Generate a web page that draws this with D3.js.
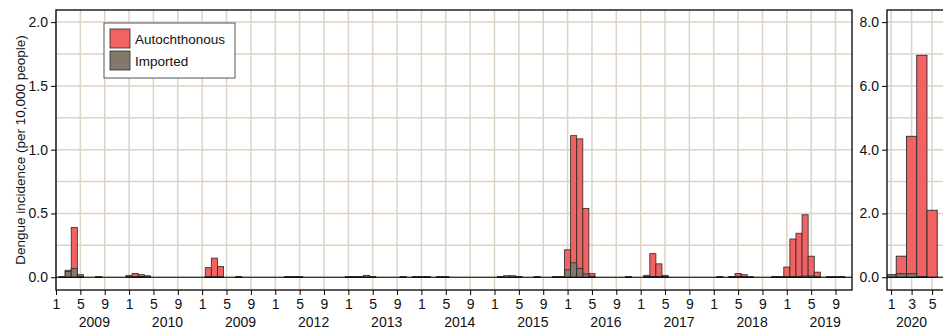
<!DOCTYPE html>
<html>
<head>
<meta charset="utf-8">
<script src="https://cdn.jsdelivr.net/npm/d3@7"></script>
<style>
  html, body { margin: 0; padding: 0; background: #fff; }
  svg { display: block; font-family: "Liberation Sans", Arial, sans-serif; }
</style>
</head>
<body>
<svg id="chart" width="943" height="329"></svg>
<script>
// Monthly dengue incidence per 10,000 people, Jan 2009 - Dec 2019 (12 values per year)
const autochthonous = [
  0, 0.004, 0.055, 0.39, 0.02, 0, 0, 0.004, 0, 0, 0, 0,          // 2009
  0.015, 0.03, 0.02, 0.01, 0, 0, 0, 0, 0, 0, 0, 0,               // 2010
  0, 0.075, 0.15, 0.085, 0, 0, 0.004, 0, 0, 0, 0, 0,              // 2011
  0, 0, 0.004, 0.004, 0.004, 0, 0, 0, 0, 0, 0, 0,                 // 2012
  0.004, 0.004, 0.004, 0.006, 0.004, 0, 0, 0, 0, 0.004, 0, 0.004, // 2013
  0.004, 0.004, 0, 0.004, 0.004, 0, 0, 0, 0, 0, 0, 0,             // 2014
  0, 0.005, 0.006, 0.006, 0.005, 0, 0, 0.004, 0, 0, 0.004, 0.004, // 2015
  0.215, 1.11, 1.085, 0.54, 0.03, 0, 0, 0, 0, 0, 0.004, 0,        // 2016
  0, 0.015, 0.185, 0.105, 0.015, 0, 0, 0, 0, 0, 0, 0,             // 2017
  0, 0.004, 0, 0.006, 0.03, 0.02, 0.004, 0, 0, 0, 0.004, 0.004,   // 2018
  0.08, 0.30, 0.345, 0.49, 0.165, 0.04, 0, 0.004, 0.004, 0.004, 0, 0 // 2019
];
const imported = [
  0, 0.003, 0.045, 0.07, 0.008, 0, 0, 0.003, 0, 0, 0, 0,          // 2009
  0.004, 0.004, 0.006, 0.01, 0, 0, 0, 0, 0, 0, 0, 0,              // 2010
  0, 0.004, 0.004, 0.003, 0, 0, 0.004, 0, 0, 0, 0, 0,             // 2011
  0, 0, 0.004, 0.004, 0.004, 0, 0, 0, 0, 0, 0, 0,                 // 2012
  0.004, 0.004, 0.004, 0.015, 0.004, 0, 0, 0, 0, 0.004, 0, 0.004, // 2013
  0.004, 0.004, 0, 0.004, 0.004, 0, 0, 0, 0, 0, 0, 0,             // 2014
  0, 0.005, 0.012, 0.012, 0.005, 0, 0, 0.004, 0, 0, 0.004, 0.004, // 2015
  0.058, 0.113, 0.07, 0.026, 0.008, 0, 0, 0, 0, 0, 0.004, 0,      // 2016
  0, 0.005, 0.006, 0.006, 0.005, 0, 0, 0, 0, 0, 0, 0,            // 2017
  0, 0.004, 0, 0.006, 0.008, 0.005, 0.004, 0, 0, 0, 0.004, 0.004, // 2018
  0.005, 0.005, 0.006, 0.01, 0.01, 0.004, 0, 0.004, 0.004, 0.004, 0, 0 // 2019
];
const yearLabels = ["2009", "2010", "2009", "2012", "2013", "2014", "2015", "2016", "2017", "2018", "2019"];
const monthTicks = [1, 5, 9];
const mainYTicks = [0, 0.5, 1.0, 1.5, 2.0];

// 2020, Jan - May
const months2020 = [1, 2, 3, 4, 5];
const autochthonous2020 = [0.04, 0.66, 4.42, 6.96, 2.1];
const imported2020 = [0.08, 0.11, 0.11, 0.02, 0];
const yearLabel2020 = "2020";
const monthTicks2020 = [1, 3, 5];
const rightYTicks = [0, 2, 4, 6, 8];

const seriesNames = ["Autochthonous", "Imported"];
const RED = "#f26262", GREY = "#83786c", GRID = "#ddd3c6", EDGE = "#2a2a2a";

const svg = d3.select("#chart");
const plotTop = 10, plotBottom = 290;

// ---------- main panel ----------
const mainL = 56, mainR = 852;
const x = d3.scaleLinear().domain([0, 130.7]).range([mainL, mainR]);
const y = d3.scaleLinear().domain([-0.1, 2.095]).range([plotBottom, plotTop]);
const bw = x(1) - x(0);

svg.append("clipPath").attr("id", "clipMain")
  .append("rect").attr("x", mainL).attr("y", plotTop).attr("width", mainR - mainL).attr("height", plotBottom - plotTop);

const gMain = svg.append("g");
// grid
const tickIdx = [];
yearLabels.forEach((_, yi) => monthTicks.forEach(m => tickIdx.push({i: yi * 12 + m - 1, label: String(m)})));
gMain.append("g").selectAll("line").data(d3.range(0, 2.01, 0.25)).join("line")
  .attr("x1", mainL).attr("x2", mainR).attr("y1", d => y(d)).attr("y2", d => y(d))
  .attr("stroke", GRID).attr("stroke-width", 1.5);
gMain.append("g").selectAll("line").data(tickIdx).join("line")
  .attr("x1", d => x(d.i)).attr("x2", d => x(d.i)).attr("y1", plotTop).attr("y2", plotBottom)
  .attr("stroke", GRID).attr("stroke-width", 1.5);

const barsMain = gMain.append("g").attr("clip-path", "url(#clipMain)");
barsMain.append("g").selectAll("rect").data(autochthonous.map((v, i) => ({v, i})).filter(d => d.v > 0)).join("rect")
  .attr("x", d => x(d.i - 0.5)).attr("width", bw)
  .attr("y", d => y(d.v)).attr("height", d => y(0) - y(d.v))
  .attr("fill", RED).attr("stroke", EDGE).attr("stroke-width", 0.8);
barsMain.append("g").selectAll("rect").data(imported.map((v, i) => ({v, i})).filter(d => d.v > 0)).join("rect")
  .attr("x", d => x(d.i - 0.5)).attr("width", bw)
  .attr("y", d => y(d.v)).attr("height", d => y(0) - y(d.v))
  .attr("fill", GREY).attr("stroke", EDGE).attr("stroke-width", 0.8);
gMain.append("line").attr("x1", mainL).attr("x2", mainR).attr("y1", y(0)).attr("y2", y(0))
  .attr("stroke", "#000").attr("stroke-width", 1.2);
gMain.append("rect").attr("x", mainL).attr("y", plotTop).attr("width", mainR - mainL).attr("height", plotBottom - plotTop)
  .attr("fill", "none").attr("stroke", "#000").attr("stroke-width", 1.3);

// axes
const yAxis = d3.axisLeft(y).tickValues(mainYTicks).tickFormat(d3.format(".1f")).tickSize(5).tickPadding(3);
const gy = svg.append("g").attr("transform", `translate(${mainL},0)`).call(yAxis);
const xAxis = d3.axisBottom(x).tickValues(tickIdx.map(d => d.i)).tickFormat((d, k) => tickIdx[k].label).tickSize(5).tickPadding(4);
const gx = svg.append("g").attr("transform", `translate(0,${plotBottom})`).call(xAxis);
[gy, gx].forEach(g => {
  g.select(".domain").remove();
  g.selectAll("text").attr("font-size", 14).attr("fill", "#111").attr("font-family", "Liberation Sans, Arial, sans-serif");
  g.selectAll("line").attr("stroke", "#000");
});
svg.append("g").selectAll("text").data(yearLabels).join("text")
  .attr("x", (d, k) => x(k * 12 + 6.3)).attr("y", 327).attr("text-anchor", "middle")
  .attr("font-size", 14).attr("fill", "#111").text(d => d);

svg.append("text").attr("transform", "translate(25,150) rotate(-90)").attr("text-anchor", "middle")
  .attr("font-size", 13.5).attr("fill", "#111").text("Dengue incidence (per 10,000 people)");

// legend
const lg = svg.append("g").attr("transform", "translate(104,23)");
lg.append("rect").attr("width", 131).attr("height", 55).attr("fill", "#fff").attr("stroke", "#555").attr("stroke-width", 1);
lg.selectAll("g.item").data(seriesNames).join("g").attr("class", "item")
  .attr("transform", (d, k) => `translate(6,${6 + k * 22})`)
  .each(function (d, k) {
    const g = d3.select(this);
    g.append("rect").attr("width", 20).attr("height", 19)
      .attr("fill", k === 0 ? RED : GREY).attr("stroke", EDGE).attr("stroke-width", 0.8);
    g.append("text").attr("x", 25).attr("y", 15).attr("font-size", 13.5).attr("fill", "#111").text(d);
  });

// ---------- 2020 panel ----------
const rL = 887;
const xr = d3.scaleLinear().domain([0.6, 6.6]).range([rL, rL + 6 * 10.25]);
const yr = d3.scaleLinear().domain([-0.4, 8.38]).range([plotBottom, plotTop]);
const rR = xr(6.6);
const bwr = xr(1) - xr(0);
svg.append("clipPath").attr("id", "clipRight")
  .append("rect").attr("x", rL).attr("y", plotTop).attr("width", rR - rL).attr("height", plotBottom - plotTop);
const gR = svg.append("g");
gR.append("g").selectAll("line").data(d3.range(0, 8.01, 1)).join("line")
  .attr("x1", rL).attr("x2", rR).attr("y1", d => yr(d)).attr("y2", d => yr(d))
  .attr("stroke", GRID).attr("stroke-width", 1.5);
gR.append("g").selectAll("line").data(monthTicks2020).join("line")
  .attr("x1", d => xr(d)).attr("x2", d => xr(d)).attr("y1", plotTop).attr("y2", plotBottom)
  .attr("stroke", GRID).attr("stroke-width", 1.5);
const barsR = gR.append("g").attr("clip-path", "url(#clipRight)");
barsR.append("g").selectAll("rect").data(months2020.map((m, k) => ({m, v: autochthonous2020[k]})).filter(d => d.v > 0)).join("rect")
  .attr("x", d => xr(d.m - 0.5)).attr("width", bwr)
  .attr("y", d => yr(d.v)).attr("height", d => yr(0) - yr(d.v))
  .attr("fill", RED).attr("stroke", EDGE).attr("stroke-width", 0.9);
barsR.append("g").selectAll("rect").data(months2020.map((m, k) => ({m, v: imported2020[k]})).filter(d => d.v > 0)).join("rect")
  .attr("x", d => xr(d.m - 0.5)).attr("width", bwr)
  .attr("y", d => yr(d.v)).attr("height", d => yr(0) - yr(d.v))
  .attr("fill", GREY).attr("stroke", EDGE).attr("stroke-width", 0.9);
gR.append("line").attr("x1", rL).attr("x2", rR).attr("y1", yr(0)).attr("y2", yr(0))
  .attr("stroke", "#000").attr("stroke-width", 1.2);
gR.append("rect").attr("x", rL).attr("y", plotTop).attr("width", rR - rL).attr("height", plotBottom - plotTop)
  .attr("fill", "none").attr("stroke", "#000").attr("stroke-width", 1.3);

const gyr = svg.append("g").attr("transform", `translate(${rL},0)`)
  .call(d3.axisLeft(yr).tickValues(rightYTicks).tickFormat(d3.format(".1f")).tickSize(5).tickPadding(3));
const gxr = svg.append("g").attr("transform", `translate(0,${plotBottom})`)
  .call(d3.axisBottom(xr).tickValues(monthTicks2020).tickFormat(d3.format("d")).tickSize(5).tickPadding(4));
[gyr, gxr].forEach(g => {
  g.select(".domain").remove();
  g.selectAll("text").attr("font-size", 14).attr("fill", "#111").attr("font-family", "Liberation Sans, Arial, sans-serif");
  g.selectAll("line").attr("stroke", "#000");
});
svg.append("text").attr("x", xr(3)).attr("y", 327).attr("text-anchor", "middle")
  .attr("font-size", 14).attr("fill", "#111").text(yearLabel2020);
</script>
</body>
</html>
